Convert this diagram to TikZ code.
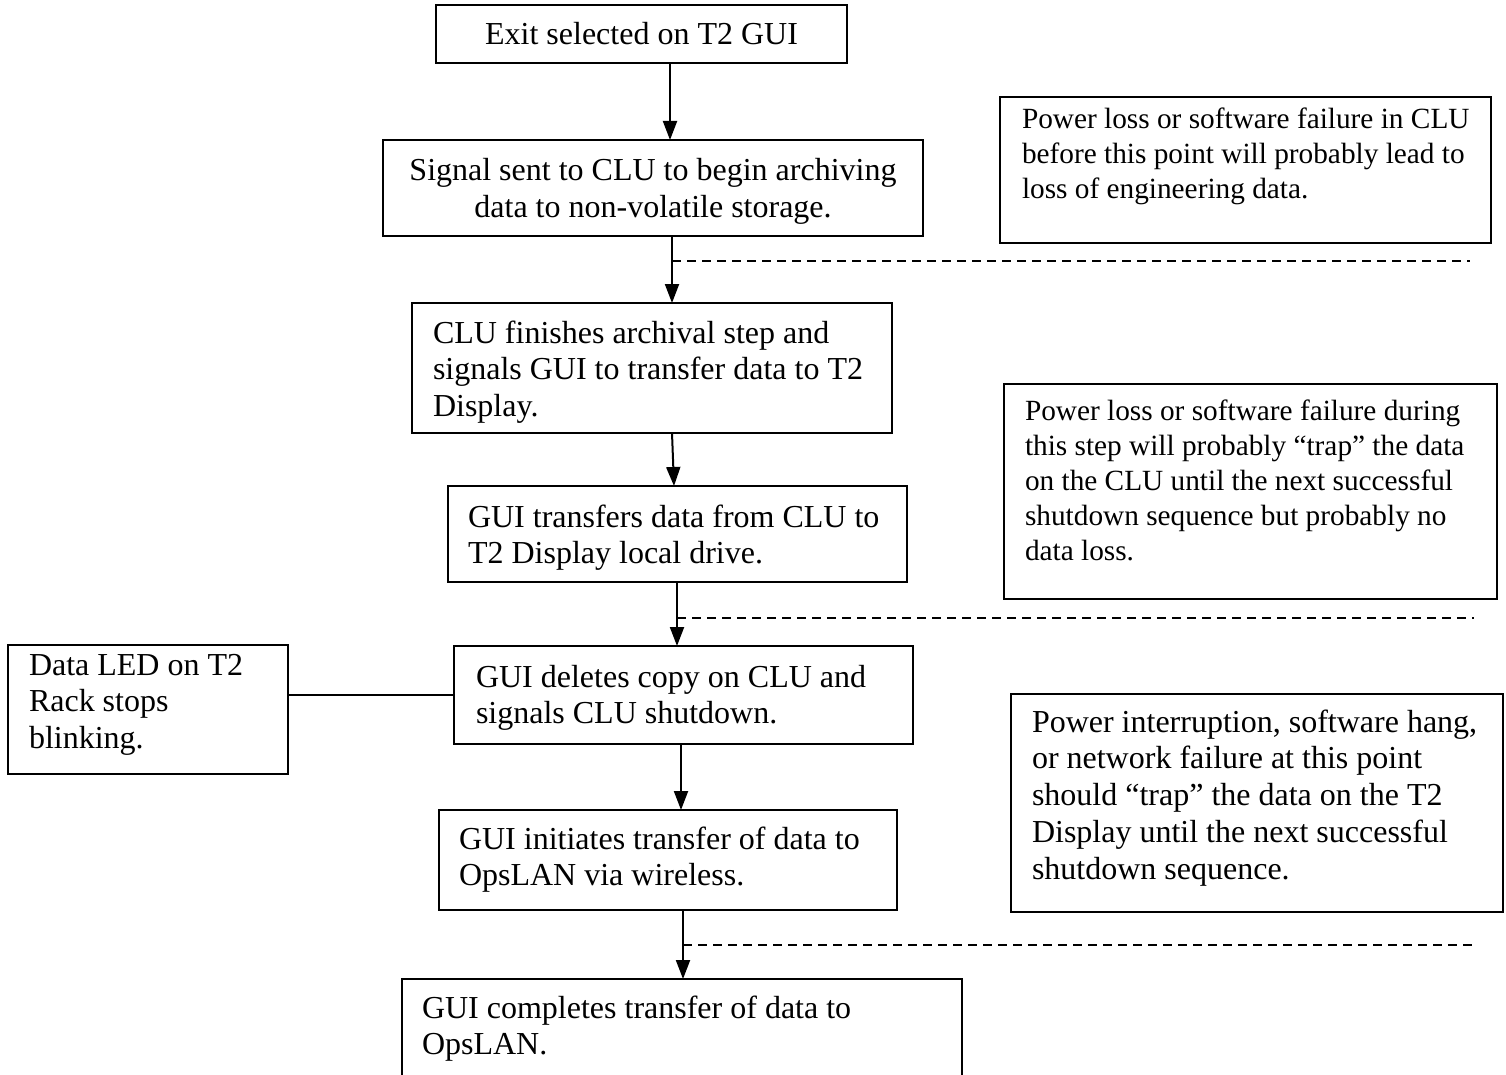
\documentclass[tikz,border=0pt]{standalone}
\usepackage{fontspec}
\setmainfont{Liberation Serif}
\usetikzlibrary{arrows.meta}
\newcommand\lbx[5]{\begin{minipage}[c][#2][t]{#1}\fontsize{32}{36.8}\selectfont\raggedright\leftskip=#3\relax\parindent=0pt\rule{0pt}{#4}#5\par\end{minipage}}
\newcommand\nbx[5]{\begin{minipage}[c][#2][t]{#1}\fontsize{29.3}{35}\selectfont\raggedright\leftskip=#3\relax\parindent=0pt\rule{0pt}{#4}#5\par\end{minipage}}
\newcommand\cbx[4]{\begin{minipage}[c][#2][t]{#1}\fontsize{32}{36.8}\selectfont\centering\rule{0pt}{#3}#4\par\end{minipage}}
\begin{document}
\begin{tikzpicture}[x=1pt,y=-1pt,
  box/.style={draw, line width=1.5pt, inner sep=0pt, outer sep=0pt, anchor=north west},
  flow/.style={line width=2pt, -{Triangle[length=19pt,width=14pt]}},
  sep/.style={line width=1.3pt, dash pattern=on 9pt off 6pt}]
\useasboundingbox (0,0) rectangle (1506,1075);
\clip (0,0) rectangle (1506,1075);
\fill[white] (0,0) rectangle (1506,1075);
% flow boxes
\node[box] (b1) at (436,5) {\cbx{411pt}{58pt}{40pt}{Exit selected on T2 GUI}};
\node[box] (b2) at (383,140) {\cbx{540pt}{96pt}{41pt}{Signal sent to CLU to begin archiving\\data to non-volatile storage.}};
\node[box] (b3) at (412,303) {\lbx{480pt}{130pt}{21pt}{40pt}{CLU finishes archival step and\\signals GUI to transfer data to T2\\Display.}};
\node[box] (b4) at (448,486) {\lbx{459pt}{96pt}{20pt}{41pt}{GUI transfers data from CLU to\\T2 Display local drive.}};
\node[box] (b5) at (454,646) {\lbx{459pt}{98pt}{22pt}{41pt}{GUI deletes copy on CLU and\\signals CLU shutdown.}};
\node[box] (b6) at (439,810) {\lbx{458pt}{100pt}{20pt}{39pt}{GUI initiates transfer of data to\\OpsLAN via wireless.}};
\node[box] (b7) at (402,979) {\lbx{560pt}{130pt}{20pt}{39pt}{GUI completes transfer of data to\\OpsLAN.}};
% side boxes
\node[box] (led) at (8,645) {\lbx{280pt}{129pt}{21pt}{30pt}{Data LED on T2\\Rack stops\\blinking.}};
\node[box] (nA) at (1000,97) {\nbx{491pt}{146pt}{22pt}{32pt}{Power loss or software failure in CLU\\before this point will probably lead to\\loss of engineering data.}};
\node[box] (nB) at (1004,384) {\nbx{493pt}{215pt}{21pt}{36pt}{Power loss or software failure during\\this step will probably “trap” the data\\on the CLU until the next successful\\shutdown sequence but probably no\\data loss.}};
\node[box] (nC) at (1011,694) {\lbx{492pt}{218pt}{21pt}{38pt}{Power interruption, software hang,\\or network failure at this point\\should “trap” the data on the T2\\Display until the next successful\\shutdown sequence.}};
% arrows
\draw[flow] (b1.south -| 670,0) -- (b2.north -| 670,0);
\draw[flow] (b2.south -| 672,0) -- (b3.north -| 672,0);
\draw[flow] (b3.south -| 672,0) -- (b4.north -| 674,0);
\draw[flow] (b4.south -| 677,0) -- (b5.north -| 677,0);
\draw[flow] (b5.south -| 681,0) -- (b6.north -| 681,0);
\draw[flow] (b6.south -| 683,0) -- (b7.north -| 683,0);
% connector to LED box
\draw[line width=1.3pt] (b5.west -| led.east) -- (b5.west);
% dashed separators
\coordinate (d1s) at (672,261); \coordinate (d1e) at (1470,261);
\coordinate (d2s) at (677,618); \coordinate (d2e) at (1474,618);
\coordinate (d3s) at (683,945); \coordinate (d3e) at (1472,945);
\draw[sep] (d1s) -- (d1e);
\draw[sep] (d2s) -- (d2e);
\draw[sep] (d3s) -- (d3e);
\end{tikzpicture}
\end{document}
